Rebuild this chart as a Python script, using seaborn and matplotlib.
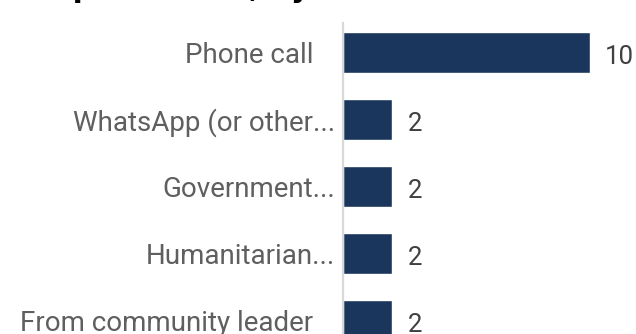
import matplotlib
matplotlib.use("Agg")
import matplotlib.pyplot as plt
import matplotlib.transforms as mtransforms
import seaborn as sns
import pandas as pd

# Data
channels = [
    "Phone call",
    "WhatsApp (or other...",
    "Government...",
    "Humanitarian...",
    "From community leader",
]
counts = [10, 2, 2, 2, 2]
title_text = "Top channels, by method (n=18)"

BAR_COLOR = "#1b365d"
LABEL_COLOR = "#5f5f5f"
VALUE_COLOR = "#404040"

sns.set_theme(style="white")
plt.rcParams["font.family"] = ["Roboto", "DejaVu Sans"]

W, H, DPI = 636, 334, 100
fig = plt.figure(figsize=(W / DPI, H / DPI), dpi=DPI)
ax = fig.add_axes([343 / W, 0, 1 - 343 / W, (H - 23) / H])

df = pd.DataFrame({"channel": channels, "count": counts})
sns.barplot(data=df, x="count", y="channel", orient="h", color=BAR_COLOR,
            width=0.61, saturation=1, ax=ax)

ax.set_xlim(0, (W - 343) / 24.7)
ax.set_ylim(4.2, -0.44)
ax.set_xlabel("")
ax.set_ylabel("")
ax.set_xticks([])

for side in ("top", "right", "bottom"):
    ax.spines[side].set_visible(False)
ax.spines["left"].set_color("#d9d9d9")
ax.spines["left"].set_linewidth(1.6)

ax.tick_params(axis="y", length=0, pad=21.5, labelsize=20, labelcolor=LABEL_COLOR)

# Truncated labels sit a little closer to the axis line
shift = mtransforms.ScaledTranslation(22 / DPI, 0, fig.dpi_scale_trans)
for lbl in ax.get_yticklabels():
    if lbl.get_text().endswith("..."):
        lbl.set_transform(lbl.get_transform() + shift)

for cont in ax.containers:
    texts = ax.bar_label(cont, fmt="%d", padding=11, fontsize=18.5, color=VALUE_COLOR)
    for t in texts:
        t.xyann = (11, -3.0)

fig.text(37 / W, 1 + 2.8 / H, title_text, ha="left", va="baseline",
         fontsize=20.9, fontweight="bold", color="black", family="DejaVu Sans")

fig.savefig("out.png", dpi=DPI)
